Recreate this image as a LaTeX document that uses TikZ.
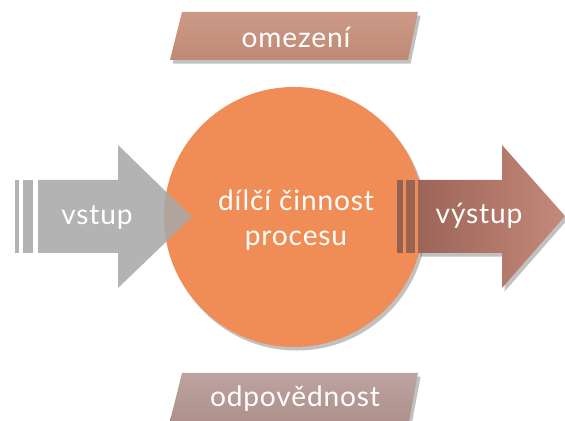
\documentclass[tikz,border=0pt]{standalone}
\usepackage{fontspec}
\setmainfont{Lato}[LetterSpace=3]
\usetikzlibrary{shadows,fadings}
\definecolor{procorange}{HTML}{F08C55}
\definecolor{ingray}{HTML}{A8A8A8}
\definecolor{outdark}{HTML}{9C6557}
\definecolor{outlight}{HTML}{C4897B}
\definecolor{outbar}{HTML}{94604F}
\definecolor{limtop}{HTML}{CC9A88}
\definecolor{limbot}{HTML}{C08A74}
\definecolor{resptop}{HTML}{BDA3A0}
\definecolor{respbot}{HTML}{AE918C}
\tikzset{
  lbl/.style={text=white,font=\fontsize{16}{20}\selectfont},
  softshadow/.style={drop shadow={shadow xshift=1.5pt,shadow yshift=-2pt,opacity=0.35,fill=black!70}},
  tagbox/.style={softshadow},
}
\begin{document}
\begin{tikzpicture}[x=0.02cm,y=-0.02cm]
\useasboundingbox (0,0) rectangle (565,421);

% top label: constraints
\path[tagbox,top color=limtop,bottom color=limbot]
  (182,12) -- (418,12) -- (408,60) -- (170,60) -- cycle;
\node[lbl] (limit) at (296,37) {omezení};

% bottom label: responsibility
\path[tagbox,top color=resptop,bottom color=respbot]
  (182,373) -- (418,373) -- (409,421) -- (170,421) -- cycle;
\node[lbl] (resp) at (295,399) {odpovědnost};

% central activity
\path[softshadow,fill=procorange] (294,217) circle (130);
\node[lbl,align=center] (proc) at (296,220) {dílčí činnost\\procesu};

% input arrow, translucent over the circle
\begin{scope}[opacity=0.88]
\path[fill=ingray] (15,180) rectangle (19,253);
\path[fill=ingray] (23,180) rectangle (33,253);
\path[fill=ingray] (38,180) -- (118,180) -- (118,145) -- (192,217)
  -- (118,288) -- (118,253) -- (38,253) -- cycle;
\end{scope}
\node[lbl] (in) at (97,217) {vstup};

% output arrow
\path[softshadow,shading angle=60,left color=outdark,right color=outlight]
  (418,180) -- (502,180) -- (502,145) -- (565,216)
  -- (502,288) -- (502,253) -- (418,253) -- cycle;
\path[fill=outbar] (397,180) rectangle (403,253);
\path[fill=outbar!90!outlight] (406,180) rectangle (415,253);
\node[lbl] (out) at (479,216) {výstup};
\end{tikzpicture}
\end{document}
